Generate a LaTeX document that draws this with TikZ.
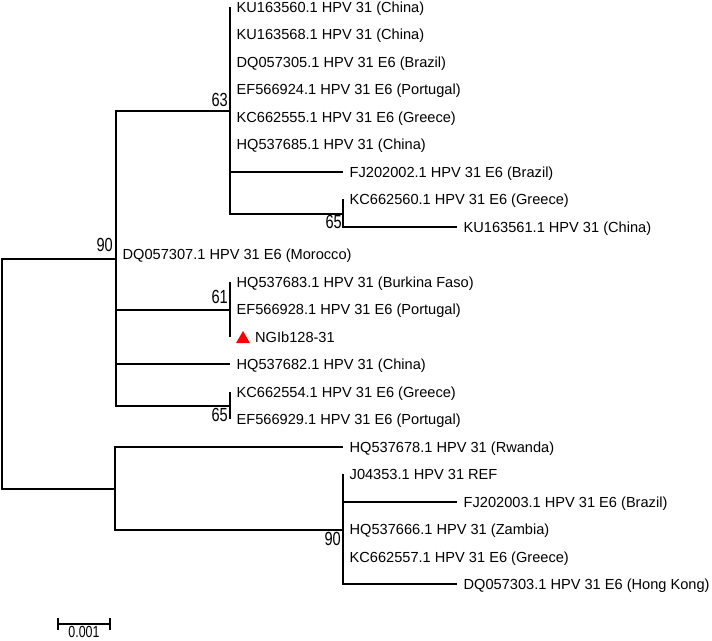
\documentclass[tikz,border=0pt]{standalone}
\usepackage{fontspec}
\setmainfont{Liberation Sans}
\usetikzlibrary{shapes.geometric}
\begin{document}
\begin{tikzpicture}[x=1pt,y=-1pt,
  br/.style={draw=black, line width=1.2pt},
  leaf/.style={anchor=base west, inner sep=0pt, xshift=6.5pt, yshift=-5.2pt, font=\fontsize{14.6}{17}\selectfont},
  boot/.style={anchor=east, inner sep=0pt, font=\fontsize{14.6}{17}\selectfont},
  tri/.style={regular polygon, regular polygon sides=3, fill=red, draw=none, minimum size=16pt, inner sep=0pt}]
\useasboundingbox (0,0) rectangle (712,640);
\fill[white] (0,0) rectangle (712,640);
% internal nodes
\coordinate (R) at (2,374);
\coordinate (A) at (116,259);
\coordinate (B) at (115,489);
\coordinate (C63) at (230,111);
\coordinate (C65a) at (343,214);
\coordinate (C61) at (230,310);
\coordinate (C65b) at (230,406);
\coordinate (C90b) at (343,530);
% leaf tips
\coordinate (t1) at (230,7);
\coordinate (t2) at (230,34.5);
\coordinate (t3) at (230,62);
\coordinate (t4) at (230,89.4);
\coordinate (t5) at (230,117);
\coordinate (t6) at (230,144.4);
\coordinate (t7) at (343,172);
\coordinate (t8) at (343,199.4);
\coordinate (t9) at (457,227);
\coordinate (t10) at (116,254.3);
\coordinate (t11) at (230,282);
\coordinate (t12) at (230,309.3);
\coordinate (t13) at (230,337);
\coordinate (t14) at (230,364);
\coordinate (t15) at (230,392);
\coordinate (t16) at (230,419);
\coordinate (t17) at (343,447);
\coordinate (t18) at (343,474);
\coordinate (t19) at (457,502);
\coordinate (t20) at (343,529);
\coordinate (t21) at (343,557);
\coordinate (t22) at (457,584);
% branches
\draw[br] (R) |- (A);
\draw[br] (R) |- (B);
\foreach \c in {C63,t10,C61,t14,C65b} \draw[br] (A) |- (\c);
\foreach \c in {t1,t2,t3,t4,t5,t6,t7,C65a} \draw[br] (C63) |- (\c);
\foreach \c in {t8,t9} \draw[br] (C65a) |- (\c);
\foreach \c in {t11,t12,t13} \draw[br] (C61) |- (\c);
\foreach \c in {t15,t16} \draw[br] (C65b) |- (\c);
\foreach \c in {t17,C90b} \draw[br] (B) |- (\c);
\foreach \c in {t18,t19,t20,t21,t22} \draw[br] (C90b) |- (\c);
% leaf labels
\node[leaf] (l1) at (t1) {KU163560.1 HPV 31 (China)};
\node[leaf] (l2) at (t2) {KU163568.1 HPV 31 (China)};
\node[leaf] (l3) at (t3) {DQ057305.1 HPV 31 E6 (Brazil)};
\node[leaf] (l4) at (t4) {EF566924.1 HPV 31 E6 (Portugal)};
\node[leaf] (l5) at (t5) {KC662555.1 HPV 31 E6 (Greece)};
\node[leaf] (l6) at (t6) {HQ537685.1 HPV 31 (China)};
\node[leaf] (l7) at (t7) {FJ202002.1 HPV 31 E6 (Brazil)};
\node[leaf] (l8) at (t8) {KC662560.1 HPV 31 E6 (Greece)};
\node[leaf] (l9) at (t9) {KU163561.1 HPV 31 (China)};
\node[leaf] (l10) at (t10) {DQ057307.1 HPV 31 E6 (Morocco)};
\node[leaf] (l11) at (t11) {HQ537683.1 HPV 31 (Burkina Faso)};
\node[leaf] (l12) at (t12) {EF566928.1 HPV 31 E6 (Portugal)};
\node[tri] (mark) at (243,339) {};
\node[leaf, xshift=18.5pt] (l13) at (t13) {NGIb128-31};
\node[leaf] (l14) at (t14) {HQ537682.1 HPV 31 (China)};
\node[leaf] (l15) at (t15) {KC662554.1 HPV 31 E6 (Greece)};
\node[leaf] (l16) at (t16) {EF566929.1 HPV 31 E6 (Portugal)};
\node[leaf] (l17) at (t17) {HQ537678.1 HPV 31 (Rwanda)};
\node[leaf] (l18) at (t18) {J04353.1 HPV 31 REF};
\node[leaf] (l19) at (t19) {FJ202003.1 HPV 31 E6 (Brazil)};
\node[leaf] (l20) at (t20) {HQ537666.1 HPV 31 (Zambia)};
\node[leaf] (l21) at (t21) {KC662557.1 HPV 31 E6 (Greece)};
\node[leaf] (l22) at (t22) {DQ057303.1 HPV 31 E6 (Hong Kong)};
% bootstrap values
\node[boot] (b63) at (228,100) {\scalebox{1}[1.3]{63}};
\node[boot] (b65a) at (342,222) {\scalebox{1}[1.3]{65}};
\node[boot] (b90) at (113,245) {\scalebox{1}[1.3]{90}};
\node[boot] (b61) at (228,297) {\scalebox{1}[1.3]{61}};
\node[boot] (b65b) at (228,415) {\scalebox{1}[1.3]{65}};
\node[boot] (b90b) at (341,539) {\scalebox{1}[1.3]{90}};
% scale bar
\coordinate (s1) at (58,624);
\coordinate (s2) at (110,624);
\draw[br] (s1) -- (s2);
\draw[br] ([yshift=6pt]s1) -- ([yshift=-6pt]s1);
\draw[br] ([yshift=6pt]s2) -- ([yshift=-6pt]s2);
\node[anchor=north, inner sep=0pt, font=\fontsize{14.6}{17}\selectfont] (sl) at (84,626.5) {\scalebox{0.85}[1.1]{0.001}};
\end{tikzpicture}
\end{document}
